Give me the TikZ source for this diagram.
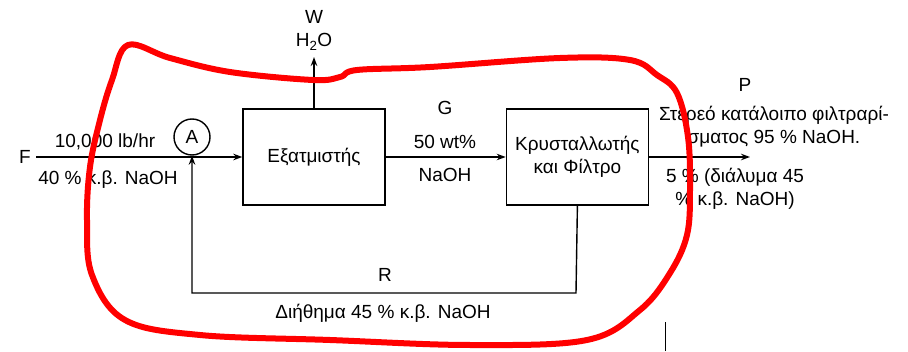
\documentclass[tikz,border=0pt]{standalone}
\usepackage{fontspec}
\setmainfont{Liberation Sans}
\usetikzlibrary{arrows.meta, positioning}

\begin{document}
\begin{tikzpicture}[
    x=1pt, y=1pt,
    node distance=120pt,
    unit/.style={rectangle, draw, line width=1.4pt, minimum width=142pt, minimum height=96pt, align=center, font=\fontsize{19}{23}\selectfont},
    lbl/.style={inner sep=0pt, align=center, font=\fontsize{19}{23}\selectfont},
    flow/.style={->, >={Stealth[length=9pt,width=6.5pt]}, line width=1.4pt},
    note/.style={red, line width=6pt, line join=round, line cap=round}
]
    \useasboundingbox (0,0) rectangle (908,351);

    \node (evap) [unit] at (314,194) {Εξατμιστής};
    \node (cryst) [unit, right=of evap] {Κρυσταλλωτής\\και Φίλτρο};
    \node (F) [lbl, inner sep=5pt] at (25,194) {F};
    \node (mixA) [circle, draw, line width=1.4pt, minimum size=36pt, inner sep=0pt, font=\fontsize{19}{23}\selectfont] at (192,214) {A};

    \coordinate (vapour) at (314,294);
    \coordinate (prodend) at (750,194);
    \coordinate (rcorner) at (576,58);

    \node (W) [lbl] at (314,334) {W};
    \node (water) [lbl] at (314,309) {H\textsubscript{2}O};
    \node (feedrate) [lbl] at (105,209) {10,000 lb/hr};
    \node (feedconc) [lbl] at (108,171) {40 \% κ.β. NaOH};
    \node (G) [lbl] at (445,243) {G};
    \node (gconc) [lbl] at (445,209) {50 wt\%};
    \node (gnaoh) [lbl] at (445,176) {NaOH};
    \node (P) [lbl] at (745,266) {P};
    \node (solid) [lbl] at (774,224) {Στερεό κατάλοιπο φιλτραρί-\\σματος 95 \% NaOH.};
    \node (liquor) [lbl] at (735,162) {5 \% (διάλυμα 45\\\% κ.β. NaOH)};
    \node (R) [lbl] at (385,76) {R};
    \node (filtrate) [lbl] at (383,38) {Διήθημα 45 \% κ.β. NaOH};

    \draw[flow] (F.east) -- (evap.west);
    \draw[flow] (evap.north) -- (vapour);
    \draw[flow] (evap.east) -- (cryst.west);
    \draw[flow] (cryst.east) -- (prodend);
    \draw[flow] (cryst.south) -- (rcorner) -| (mixA.south);

    % hand-drawn mark
    \draw[note] plot[smooth cycle, tension=0.6] coordinates {
        (128,306) (112,271) (100,231) (90,184) (87,131) (92,76) (125,31)
        (200,16) (330,11) (470,6) (587,11) (640,41) (670,78) (687,116)
        (690,161) (688,214) (677,258) (657,276) (630,291) (560,293)
        (430,284) (357,281) (340,274) (313,271) (230,279) (170,293)};
    \draw[line width=1pt] (665,0) -- (665,29);
\end{tikzpicture}
\end{document}
